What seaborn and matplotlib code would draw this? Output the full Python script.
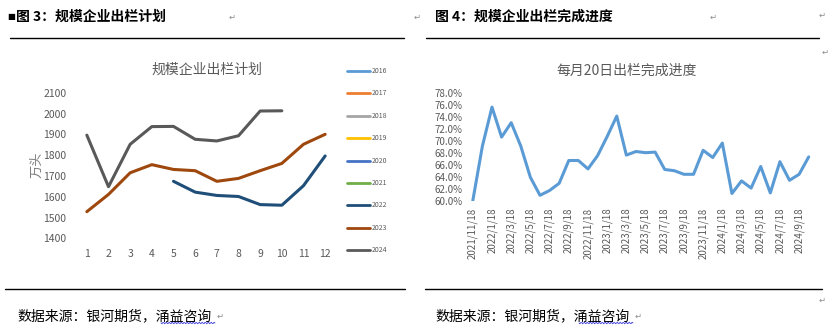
import matplotlib
matplotlib.use("Agg")
import matplotlib.pyplot as plt
import seaborn as sns
import pandas as pd
import numpy as np
from matplotlib.lines import Line2D

# ---------------- data ----------------
months = list(range(1, 13))
plan_2022 = [None, None, None, None, 1674, 1622, 1606, 1601, 1562, 1559, 1653, 1796]
plan_2023 = [1528, 1611, 1715, 1754, 1731, 1725, 1674, 1688, 1725, 1760, 1852, 1900]
plan_2024 = [1896, 1648, 1852, 1937, 1938, 1876, 1868, 1893, 2012, 2013, None, None]
legend_years = ["2016", "2017", "2018", "2019", "2020", "2021", "2022", "2023", "2024"]
legend_colors = ["#5B9BD5", "#ED7D31", "#A5A5A5", "#FFC000", "#4472C4",
                 "#70AD47", "#1F4E79", "#9E480E", "#595959"]
left_yticks = [1400, 1500, 1600, 1700, 1800, 1900, 2000, 2100]

progress_dates = ["2021/11/18", "2021/12/18",
                  "2022/1/18", "2022/2/18", "2022/3/18", "2022/4/18", "2022/5/18", "2022/6/18",
                  "2022/7/18", "2022/8/18", "2022/9/18", "2022/10/18", "2022/11/18", "2022/12/18",
                  "2023/1/18", "2023/2/18", "2023/3/18", "2023/4/18", "2023/5/18", "2023/6/18",
                  "2023/7/18", "2023/8/18", "2023/9/18", "2023/10/18", "2023/11/18", "2023/12/18",
                  "2024/1/18", "2024/2/18", "2024/3/18", "2024/4/18", "2024/5/18", "2024/6/18",
                  "2024/7/18", "2024/8/18", "2024/9/18", "2024/10/18"]
progress_values = [60.0, 69.1, 75.6, 70.6, 73.0, 69.1, 63.9, 60.9, 61.7, 62.9, 66.7, 66.7,
                   65.3, 67.5, 70.7, 74.1, 67.6, 68.2, 68.0, 68.1, 65.2, 65.0, 64.4, 64.4,
                   68.4, 67.2, 69.6, 61.2, 63.3, 62.1, 65.7, 61.3, 66.5, 63.4, 64.4, 67.3]
right_yticks = [60, 62, 64, 66, 68, 70, 72, 74, 76, 78]

# ---------------- style ----------------
sns.set_style("white")
plt.rcParams['font.family'] = ['Noto Sans CJK SC', 'DejaVu Sans']
plt.rcParams['axes.unicode_minus'] = False

W, H = 840, 330
fig = plt.figure(figsize=(W / 100, H / 100), dpi=100)
fig.patch.set_facecolor("white")

def fx(px):
    return px / W

def fy(py):
    return 1 - py / H

GRAY = "#595959"

# ---------------- left chart ----------------
rows = []
for yr, vals in (("2022", plan_2022), ("2023", plan_2023), ("2024", plan_2024)):
    for m, v in zip(months, vals):
        if v is not None:
            rows.append({"year": yr, "month": m, "value": v})
df_left = pd.DataFrame(rows)
pal = dict(zip(legend_years, legend_colors))

axL = fig.add_axes([fx(76), fy(238.3), fx(336) - fx(76), fy(92.7) - fy(238.3)])
sns.lineplot(data=df_left, x="month", y="value", hue="year", palette=pal,
             linewidth=2.2, ax=axL, legend=False, estimator=None, sort=True)
axL.set_xlim(0.5, 12.5)
axL.set_ylim(1400, 2100)
axL.set_xticks(months)
axL.set_xticklabels([str(m) for m in months])
axL.set_yticks(left_yticks)
axL.set_yticklabels([str(t) for t in left_yticks])
axL.tick_params(axis="both", length=0, labelsize=7.5, colors=GRAY)
axL.tick_params(axis="y", pad=7)
axL.tick_params(axis="x", pad=8)
axL.set_xlabel("")
axL.set_ylabel("")
for s in axL.spines.values():
    s.set_visible(False)
axL.patch.set_alpha(0)

fig.text(fx(207), fy(70), "规模企业出栏计划", ha="center", va="center",
         fontsize=10, color=GRAY)
fig.text(fx(37), fy(165), "万头", ha="center", va="center", rotation=90,
         fontsize=9.5, color="#7F7F7F")

# legend
for i, (yr, col) in enumerate(zip(legend_years, legend_colors)):
    ypx = 71 + i * 22.4
    fig.add_artist(Line2D([fx(347), fx(370)], [fy(ypx), fy(ypx)], color=col,
                          linewidth=2.0, transform=fig.transFigure))
    fig.text(fx(372), fy(ypx), yr, ha="left", va="center", fontsize=5,
             color=GRAY)

# ---------------- right chart ----------------
df_right = pd.DataFrame({"idx": np.arange(len(progress_values)),
                         "value": progress_values})
axR = fig.add_axes([fx(468), fy(200.7), fx(813.5) - fx(468), fy(92.7) - fy(200.7)])
sns.lineplot(data=df_right, x="idx", y="value", color="#5B9BD5",
             linewidth=2.2, ax=axR)
axR.set_xlim(-0.5, len(progress_values) - 0.5)
axR.set_ylim(60, 78)
tick_idx = list(range(0, len(progress_dates) - 1, 2))
axR.set_xticks(tick_idx)
axR.set_xticklabels([progress_dates[i] for i in tick_idx], rotation=90)
axR.set_yticks(right_yticks)
axR.set_yticklabels([f"{t:.1f}%" for t in right_yticks])
axR.tick_params(axis="both", length=0, labelsize=7, colors=GRAY)
axR.tick_params(axis="y", pad=4)
axR.tick_params(axis="x", pad=5)
axR.set_xlabel("")
axR.set_ylabel("")
for s in axR.spines.values():
    s.set_visible(False)
axR.patch.set_alpha(0)

fig.text(fx(627), fy(71), "每月20日出栏完成进度", ha="center", va="center",
         fontsize=10, color=GRAY)

# ---------------- document framing ----------------
fig.text(fx(7), fy(17), "■", ha="left", va="center", fontsize=6, color="black",
         family=["DejaVu Sans"])
fig.text(fx(16), fy(17), "图 3：规模企业出栏计划", ha="left", va="center",
         fontsize=10, fontweight="bold", color="black")
fig.text(fx(435), fy(17), "图 4：规模企业出栏完成进度", ha="left", va="center",
         fontsize=10, fontweight="bold", color="black")
for x0, x1 in ((10, 404), (426, 819)):
    fig.add_artist(Line2D([fx(x0), fx(x1)], [fy(38), fy(38)], color="black",
                          linewidth=1.0, transform=fig.transFigure))
for x0, x1 in ((5, 405), (425, 822)):
    fig.add_artist(Line2D([fx(x0), fx(x1)], [fy(289), fy(289)], color="black",
                          linewidth=1.0, transform=fig.transFigure))
for x0 in (17, 435):
    fig.text(fx(x0), fy(316), "数据来源：银河期货，涌益咨询", ha="left", va="center",
             fontsize=10, color="black")
    # spell-check wavy underline under 涌益咨询
    xs = np.linspace(x0 + 144, x0 + 198, 60)
    ys = 323 + 0.8 * np.sin((xs - xs[0]) * 2 * np.pi / 3.0)
    fig.add_artist(Line2D(fx(xs), fy(ys), color="#3B3BD9", linewidth=0.6,
                          transform=fig.transFigure))

# word formatting marks
for (xp, yp) in ((232, 17), (417, 17), (713, 17), (822, 15), (825, 52),
                 (220, 316), (638, 316), (822, 300)):
    fig.text(fx(xp), fy(yp), "↵", ha="center", va="center", fontsize=6,
             color="#8C8C8C", family=["DejaVu Sans"])

fig.savefig("out.png", dpi=100, facecolor="white")
